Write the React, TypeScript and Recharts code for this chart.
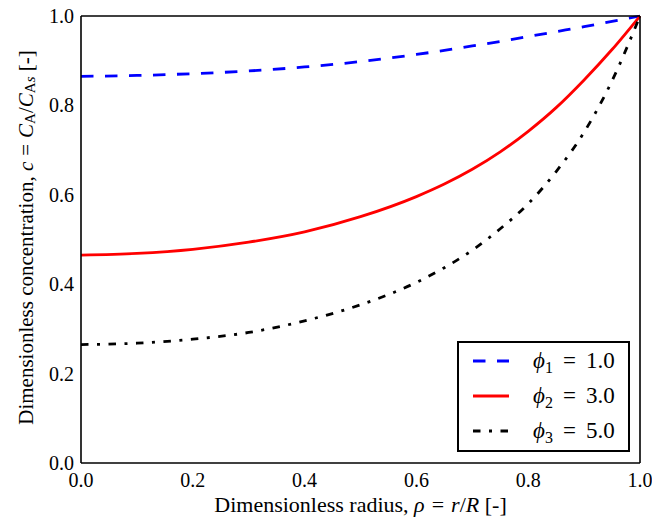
import { LineChart, Line, XAxis, YAxis, Legend, Label } from "recharts";

// radial positions (dimensionless radius rho) and profiles
const rho = [0, 0.1, 0.2, 0.3, 0.4, 0.5, 0.6, 0.65, 0.7, 0.75, 0.8, 0.85, 0.9, 0.95, 1.0];
const phi1 = [0.865, 0.867, 0.871, 0.877, 0.886, 0.898, 0.914, 0.923, 0.933, 0.943, 0.954, 0.965, 0.976, 0.988, 1.0];
const phi2 = [0.465, 0.469, 0.478, 0.494, 0.517, 0.551, 0.596, 0.624, 0.657, 0.696, 0.742, 0.795, 0.857, 0.925, 1.0];
const phi3 = [0.265, 0.268, 0.277, 0.292, 0.318, 0.354, 0.404, 0.437, 0.476, 0.524, 0.58, 0.652, 0.74, 0.855, 1.0];

const ticks = [0, 0.2, 0.4, 0.6, 0.8, 1.0];

const SERIES = [
  { key: "phi1", sub: "1", value: "1.0", color: "#0000ff", dash: "12.5 11.5" },
  { key: "phi2", sub: "2", value: "3.0", color: "#ff0000", dash: undefined },
  { key: "phi3", sub: "3", value: "5.0", color: "#000000", dash: "7.5 8.5 3 8.5" },
];

const data = rho.map((r, i) => ({ rho: r, phi1: phi1[i], phi2: phi2[i], phi3: phi3[i] }));

const FONT = "Liberation Serif, DejaVu Serif, serif";

const AxisTick = ({ x, y, payload, textAnchor, verticalAnchor }: any) => (
  <text
    x={x}
    y={y}
    textAnchor={textAnchor}
    dominantBaseline={verticalAnchor === "start" ? "hanging" : "central"}
    style={{ fontFamily: FONT, fontSize: 20 }}
    fill="#000"
  >
    {Number(payload.value).toFixed(1)}
  </text>
);

const YLabel = ({ viewBox }: any) => {
  const cx = viewBox.x + 26;
  const cy = viewBox.y + viewBox.height / 2 - 2;
  return (
    <text
      x={cx}
      y={cy}
      transform={`rotate(-90, ${cx}, ${cy})`}
      textAnchor="middle"
      dominantBaseline="central"
      style={{ fontFamily: FONT, fontSize: 21 }}
      fill="#000"
    >
      <tspan>Dimensionless concentration, </tspan>
      <tspan fontStyle="italic">c</tspan>
      <tspan dx={6}>=</tspan>
      <tspan fontStyle="italic" dx={6}>C</tspan>
      <tspan fontSize={15} dy={4}>A</tspan>
      <tspan dy={-4}>/</tspan>
      <tspan fontStyle="italic">C</tspan>
      <tspan fontSize={15} dy={4}>A</tspan>
      <tspan fontSize={15} fontStyle="italic">s</tspan>
      <tspan dy={-4}> [-]</tspan>
    </text>
  );
};

const XLabel = ({ viewBox }: any) => (
  <text
    x={viewBox.x + viewBox.width / 2}
    y={viewBox.y + 49}
    textAnchor="middle"
    style={{ fontFamily: FONT, fontSize: 22 }}
    fill="#000"
  >
    <tspan>Dimensionless radius, </tspan>
    <tspan fontStyle="italic">ρ</tspan>
    <tspan dx={7}>=</tspan>
    <tspan fontStyle="italic" dx={7}>r</tspan>
    <tspan>/</tspan>
    <tspan fontStyle="italic">R</tspan>
    <tspan> [-]</tspan>
  </text>
);

const renderLegend = () => (
  <div
    style={{
      width: 173,
      height: 111,
      boxSizing: "border-box",
      border: "2px solid #000",
      background: "#fff",
      fontFamily: FONT,
      fontSize: 23,
      color: "#000",
    }}
  >
    {SERIES.map((s) => (
      <div key={s.key} style={{ display: "flex", alignItems: "center", height: 35 }}>
        <svg width={36} height={6} style={{ marginLeft: 14 }}>
          <line x1={0} x2={36} y1={3} y2={3} stroke={s.color} strokeWidth={3} strokeDasharray={s.dash} />
        </svg>
        <span style={{ marginLeft: 24, whiteSpace: "nowrap" }}>
          <i>ϕ</i>
          <span style={{ fontSize: 16, position: "relative", top: 5 }}>{s.sub}</span>
          <span style={{ margin: "0 10px" }}>=</span>
          {s.value}
        </span>
      </div>
    ))}
  </div>
);

export default function App() {
  return (
    <div style={{ position: "fixed", left: 0, top: 0, width: 652, height: 521, fontFamily: FONT, background: "#fff" }}>
      <LineChart width={652} height={521} data={data} margin={{ top: 16, right: 12, bottom: 0, left: 0 }}>
        <XAxis
          dataKey="rho"
          type="number"
          domain={[0, 1]}
          ticks={ticks}
          tick={<AxisTick />}
          tickLine={false}
          tickSize={0}
          tickMargin={10}
          height={58}
          axisLine={{ stroke: "#000", strokeWidth: 1.6 }}
        >
          <Label content={<XLabel />} />
        </XAxis>
        <XAxis
          xAxisId="bottomTicks"
          dataKey="rho"
          type="number"
          domain={[0, 1]}
          ticks={ticks}
          mirror
          tick={false}
          tickSize={8}
          tickLine={{ stroke: "#000" }}
          axisLine={false}
        />
        <XAxis
          xAxisId="top"
          orientation="top"
          dataKey="rho"
          type="number"
          domain={[0, 1]}
          ticks={ticks}
          mirror
          tick={false}
          tickSize={8}
          tickLine={{ stroke: "#000" }}
          axisLine={{ stroke: "#000", strokeWidth: 1.6 }}
        />
        <YAxis
          type="number"
          domain={[0, 1]}
          ticks={ticks}
          tick={<AxisTick />}
          tickLine={false}
          tickSize={0}
          tickMargin={7}
          width={81}
          axisLine={{ stroke: "#000", strokeWidth: 1.6 }}
        >
          <Label content={<YLabel />} />
        </YAxis>
        <YAxis
          yAxisId="leftTicks"
          type="number"
          domain={[0, 1]}
          ticks={ticks}
          mirror
          tick={false}
          tickSize={8}
          tickLine={{ stroke: "#000" }}
          axisLine={false}
        />
        <YAxis
          yAxisId="right"
          orientation="right"
          type="number"
          domain={[0, 1]}
          ticks={ticks}
          mirror
          tick={false}
          tickSize={8}
          tickLine={{ stroke: "#000" }}
          axisLine={{ stroke: "#000", strokeWidth: 1.6 }}
        />
        {SERIES.map((s) => (
          <Line
            key={s.key}
            type="monotone"
            dataKey={s.key}
            stroke={s.color}
            strokeWidth={2.8}
            strokeDasharray={s.dash}
            dot={false}
            activeDot={false}
            isAnimationActive={false}
          />
        ))}
        <Legend
          content={renderLegend}
          layout="vertical"
          align="center"
          verticalAlign="middle"
          wrapperStyle={{ left: 457, top: 341, width: 173 }}
        />
      </LineChart>
    </div>
  );
}
